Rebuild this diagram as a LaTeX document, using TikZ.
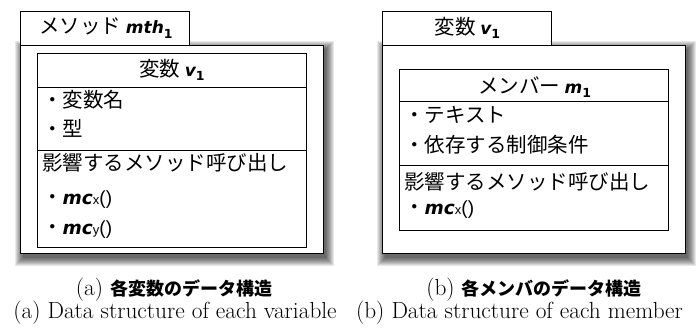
\documentclass[tikz,border=0pt]{standalone}
\usepackage{fontspec}
\newfontfamily\jp{Noto Sans CJK JP}
\newfontfamily\lat{DejaVu Sans}
\newfontfamily\las{Liberation Sans}
\newcommand{\bitx}[1]{{\lat\bfseries\itshape\fontsize{17}{17}\selectfont #1}}
\newcommand{\subone}{\raisebox{-0.22em}{\lat\bfseries\fontsize{12.5}{12.5}\selectfont 1}}
\newcommand{\mccall}[1]{{\jp ・}{\lat\bfseries\itshape\fontsize{18.5}{18.5}\selectfont mc}{\las\fontsize{13}{13}\selectfont #1}{\las\fontsize{19}{19}\selectfont ()}}
\begin{document}
\begin{tikzpicture}[x=1pt,y=-1pt,
  frame/.style={draw=black, line width=1pt, fill=white},
  rule/.style={draw=black, line width=0.9pt},
  txt/.style={anchor=west, inner sep=0pt, font=\jp\fontsize{20.5}{20.5}\selectfont},
  ctxt/.style={anchor=center, inner sep=0pt, font=\jp\fontsize{20.5}{20.5}\selectfont},
  capj/.style={anchor=center, inner sep=0pt, font=\fontsize{23.3}{23.3}\selectfont},
  cape/.style={anchor=center, inner sep=0pt, font=\fontsize{23.3}{23.3}\selectfont}]
\useasboundingbox (0,0) rectangle (700,327);
\fill[white] (0,0) rectangle (700,327);

% ---------- left panel ----------
\foreach \e in {0,1,...,8}
  \fill[black, opacity=0.09] ({20.7+2-\e},{45+4-\e}) rectangle ({323.5+2+\e},{253.5+4+\e});
\path[frame] (20.7,11.7) rectangle (189,45);
\path[frame] (20.7,45) rectangle (323.5,253.5);
\path[frame] (37.3,53.3) rectangle (306,247);
\draw[rule] (37.3,87.3) -- (306,87.3);
\draw[rule] (37.3,150.7) -- (306,150.7);

\node[ctxt] (tabA) at (106,28) {メソッド \bitx{mth}\subone};
\node[ctxt] (titA) at (172,70) {変数 \bitx{v}\subone};
\node[txt] (a1) at (42,100) {・変数名};
\node[txt] (a2) at (42,128) {・型};
\node[txt] (a3) at (42,163) {影響するメソッド呼び出し};
\node[txt] (a4) at (42,200) {\mccall{x}};
\node[txt] (a5) at (42,230) {\mccall{y}};

% ---------- right panel ----------
\foreach \e in {0,1,...,8}
  \fill[black, opacity=0.09] ({382.7+2-\e},{45+4-\e}) rectangle ({685.7+2+\e},{253.5+4+\e});
\path[frame] (382.7,11.7) rectangle (551,45);
\path[frame] (382.7,45) rectangle (685.7,253.5);
\path[frame] (399.3,69) rectangle (668.3,230);
\draw[rule] (399.3,101) -- (668.3,101);
\draw[rule] (399.3,165) -- (668.3,165);

\node[ctxt] (tabB) at (467.5,28) {変数 \bitx{v}\subone};
\node[ctxt] (titB) at (534.5,87) {メンバー \bitx{m}\subone};
\node[txt] (b1) at (404,115) {・テキスト};
\node[txt] (b2) at (404,145) {・依存する制御条件};
\node[txt] (b3) at (404,182) {影響するメソッド呼び出し};
\node[txt] (b4) at (404,210) {\mccall{x}};

% ---------- captions ----------
\node[capj] (capAj) at (174,290) {(a) {\jp\bfseries\fontsize{18}{18}\selectfont 各変数のデータ構造}};
\node[cape] (capAe) at (175,313) {(a) Data structure of each variable};
\node[capj] (capBj) at (534,290) {(b) {\jp\bfseries\fontsize{18}{18}\selectfont 各メンバのデータ構造}};
\node[cape] (capBe) at (519.5,313) {(b) Data structure of each member};
\end{tikzpicture}
\end{document}
